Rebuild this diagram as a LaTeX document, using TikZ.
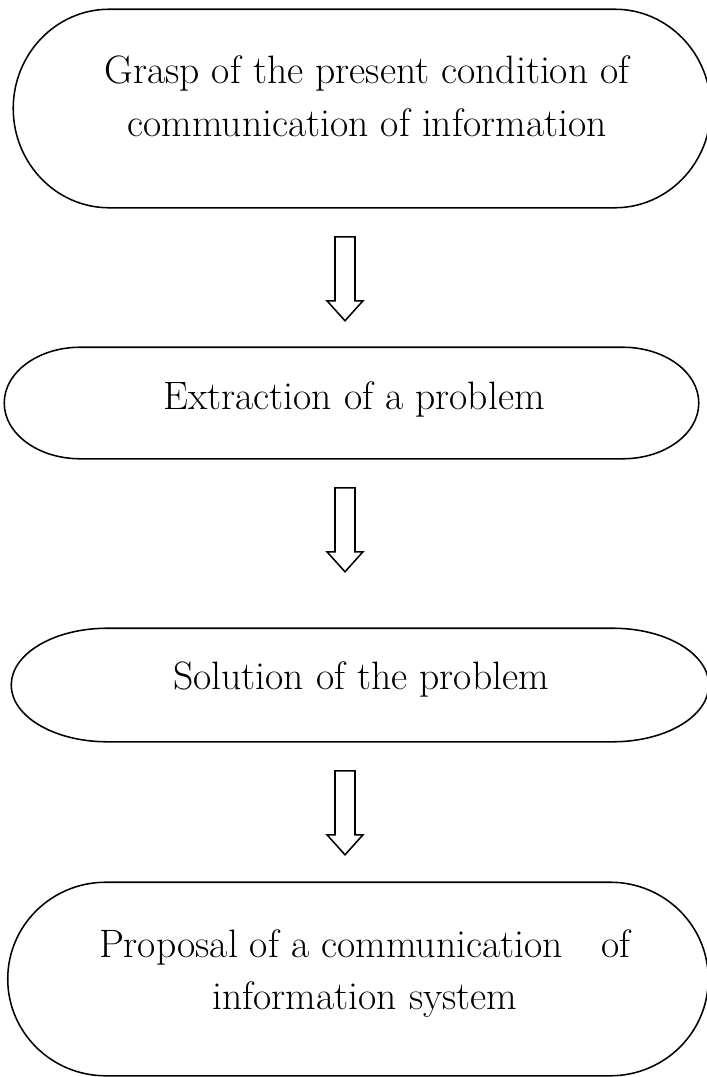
\documentclass[tikz,border=0pt]{standalone}
\usepackage{tikz}
\usetikzlibrary{calc, positioning}

\newcommand{\capsule}[2]{%
  \draw let \p1=(#1.north west), \p2=(#1.south east), \n1={(\y1-\y2)/2} in
    (\x1+#2,\y1) -- (\x2-#2,\y1) arc[start angle=90, end angle=-90, x radius=#2, y radius=\n1]
    -- (\x1+#2,\y2) arc[start angle=270, end angle=90, x radius=#2, y radius=\n1] -- cycle;
}
\newcommand{\flowarrow}[1]{%
  \draw[line join=miter] ($(#1.south -| spine)+(-0.25,-0.725)$) -- ++(0.5,0) -- ++(0,-1.6) -- ++(0.2,0)
    -- ++(-0.45,-0.5) -- ++(-0.45,0.5) -- ++(0.2,0) -- cycle;
}

\begin{document}
\begin{tikzpicture}[line width=1.1pt, txt/.style={align=center, font=\fontsize{28.2}{37.5}\selectfont}]
    \useasboundingbox (0,0) rectangle (17.675,-26.925);

    \node[minimum width=17.4cm, minimum height=4.925cm] (grasp) at (9.05, -2.7125) {};
    \node[minimum width=17.325cm, minimum height=2.75cm] (extract) at (8.7875, -10.075) {};
    \node[minimum width=17.4cm, minimum height=2.8cm] (solve) at (9.0, -17.125) {};
    \node[minimum width=17.475cm, minimum height=4.8cm] (propose) at (8.95, -24.475) {};

    \node[txt] (grasp-text) at (9.175, -2.4) {Grasp of the present condition of\\communication of information};
    \node[txt] (extract-text) at (8.85, -9.975) {Extraction of a problem};
    \node[txt] (solve-text) at (9.025, -16.975) {Solution of the problem};
    \node[txt] (propose-text) at (9.125, -24.3375) {Proposal of a communication\hspace{0.975cm}of\\information system};

    \capsule{grasp}{2.4cm}
    \capsule{extract}{1.9cm}
    \capsule{solve}{2.4cm}
    \capsule{propose}{2.45cm}

    \coordinate (spine) at (8.625, 0);
    \flowarrow{grasp}
    \flowarrow{extract}
    \flowarrow{solve}
\end{tikzpicture}
\end{document}
